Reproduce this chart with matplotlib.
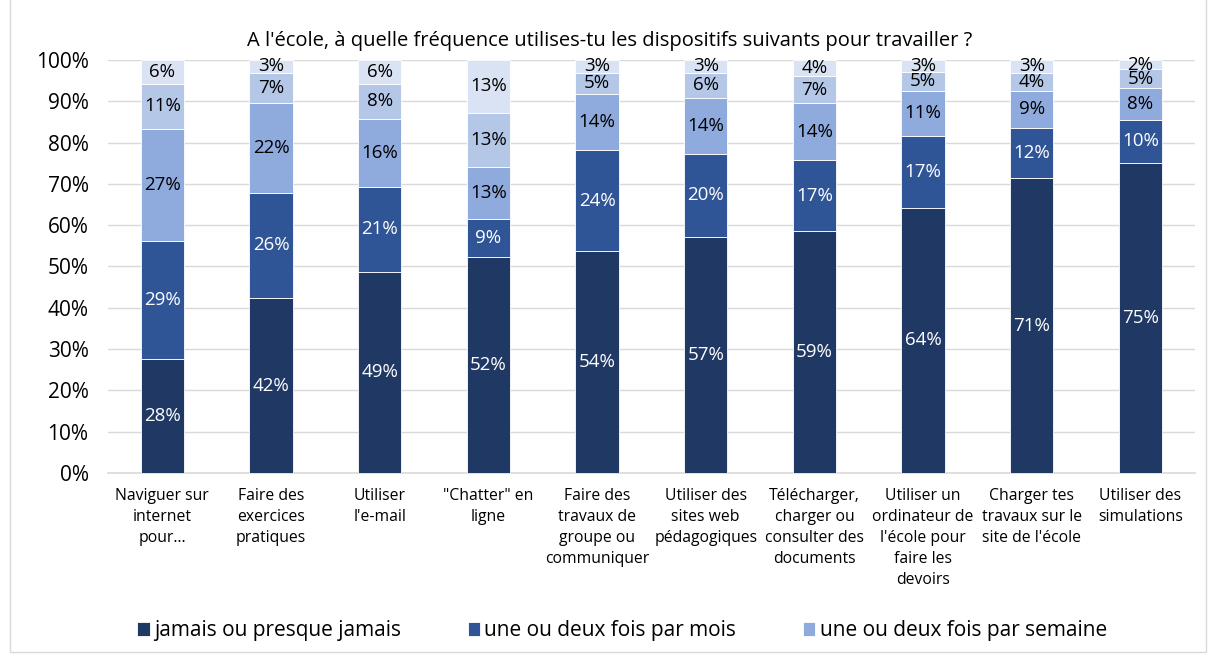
import matplotlib
matplotlib.use("Agg")
import matplotlib.pyplot as plt
import numpy as np
from matplotlib.patches import Rectangle

plt.rcParams['font.family'] = ['Open Sans', 'DejaVu Sans']

categories = [
    "Naviguer sur\ninternet\npour…",
    "Faire des\nexercices\npratiques",
    "Utiliser\nl'e-mail",
    "\"Chatter\" en\nligne",
    "Faire des\ntravaux de\ngroupe ou\ncommuniquer",
    "Utiliser des\nsites web\npédagogiques",
    "Télécharger,\ncharger ou\nconsulter des\ndocuments",
    "Utiliser un\nordinateur de\nl'école pour\nfaire les\ndevoirs",
    "Charger tes\ntravaux sur le\nsite de l'école",
    "Utiliser des\nsimulations",
]

series_names = [
    "jamais ou presque jamais",
    "une ou deux fois par mois",
    "une ou deux fois par semaine",
    "presque tous les jours",
    "tous les jours",
]

jamais = [27.6, 42.3, 48.7, 52.4, 53.7, 57.2, 58.6, 64.2, 71.4, 75.1]
mois = [28.6, 25.6, 20.6, 9.1, 24.4, 20.1, 17.1, 17.4, 12.2, 10.4]
semaine = [27.2, 21.6, 16.5, 12.7, 13.7, 13.5, 13.8, 10.9, 8.9, 7.7]
presque = [10.7, 7.4, 8.5, 13.0, 5.1, 6.1, 6.7, 4.6, 4.4, 4.6]
tous = [5.9, 3.1, 5.7, 12.8, 3.1, 3.1, 3.8, 2.9, 3.1, 2.2]

series = [jamais, mois, semaine, presque, tous]
colors = ["#203864", "#2F5597", "#8FAADC", "#B4C7E7", "#DAE3F3"]
label_colors = ["white", "white", "black", "black", "black"]

fig = plt.figure(figsize=(12.08, 6.55), dpi=100)
ax = fig.add_axes([0.0894, 0.2779, 0.8996, 0.6305])

x = np.arange(len(categories))
bottom = np.zeros(len(categories))
handles = []
for vals, name, col, lc in zip(series, series_names, colors, label_colors):
    v = np.array(vals)
    bars = ax.bar(x, v, bottom=bottom, width=0.4, color=col, label=name,
                  edgecolor="white", linewidth=0.6, zorder=3)
    handles.append(bars)
    for xi, b, h in zip(x, bottom, v):
        ax.text(xi, b + h / 2, f"{round(h):.0f}%", ha="center", va="center",
                color=lc, fontsize=13.5, zorder=4)
    bottom += v

ax.set_xlim(-0.5, len(categories) - 0.5)
ax.set_ylim(0, 100)
ax.set_yticks(np.arange(0, 101, 10))
ax.set_yticklabels([f"{t}%" for t in range(0, 101, 10)], fontsize=15)
ax.set_xticks(x)
ax.set_xticklabels(categories, fontsize=11.3, linespacing=1.42, va="top")
ax.tick_params(axis="both", length=0)
ax.tick_params(axis="x", pad=11)
ax.tick_params(axis="y", pad=14)
ax.yaxis.grid(True, color="#D9D9D9", linewidth=1, zorder=0)
for s in ["left", "right", "top"]:
    ax.spines[s].set_visible(False)
ax.spines["bottom"].set_color("#D9D9D9")
ax.spines["bottom"].set_linewidth(1.2)

fig.text(0.505, 0.938, "A l'école, à quelle fréquence utilises-tu les dispositifs suivants pour travailler ?",
         ha="center", va="center", fontsize=14.5)

fig.legend(handles[:3], series_names[:3], loc="center", bbox_to_anchor=(0.515, 0.037),
           ncol=3, frameon=False, fontsize=15, handlelength=0.6, handleheight=0.7,
           columnspacing=3.2, handletextpad=0.2)

fig.patches.append(Rectangle((0.008, 0.005), 0.99, 1.2, transform=fig.transFigure,
                             fill=False, edgecolor="#D9D9D9", linewidth=1))

fig.savefig("out.png", dpi=100)
